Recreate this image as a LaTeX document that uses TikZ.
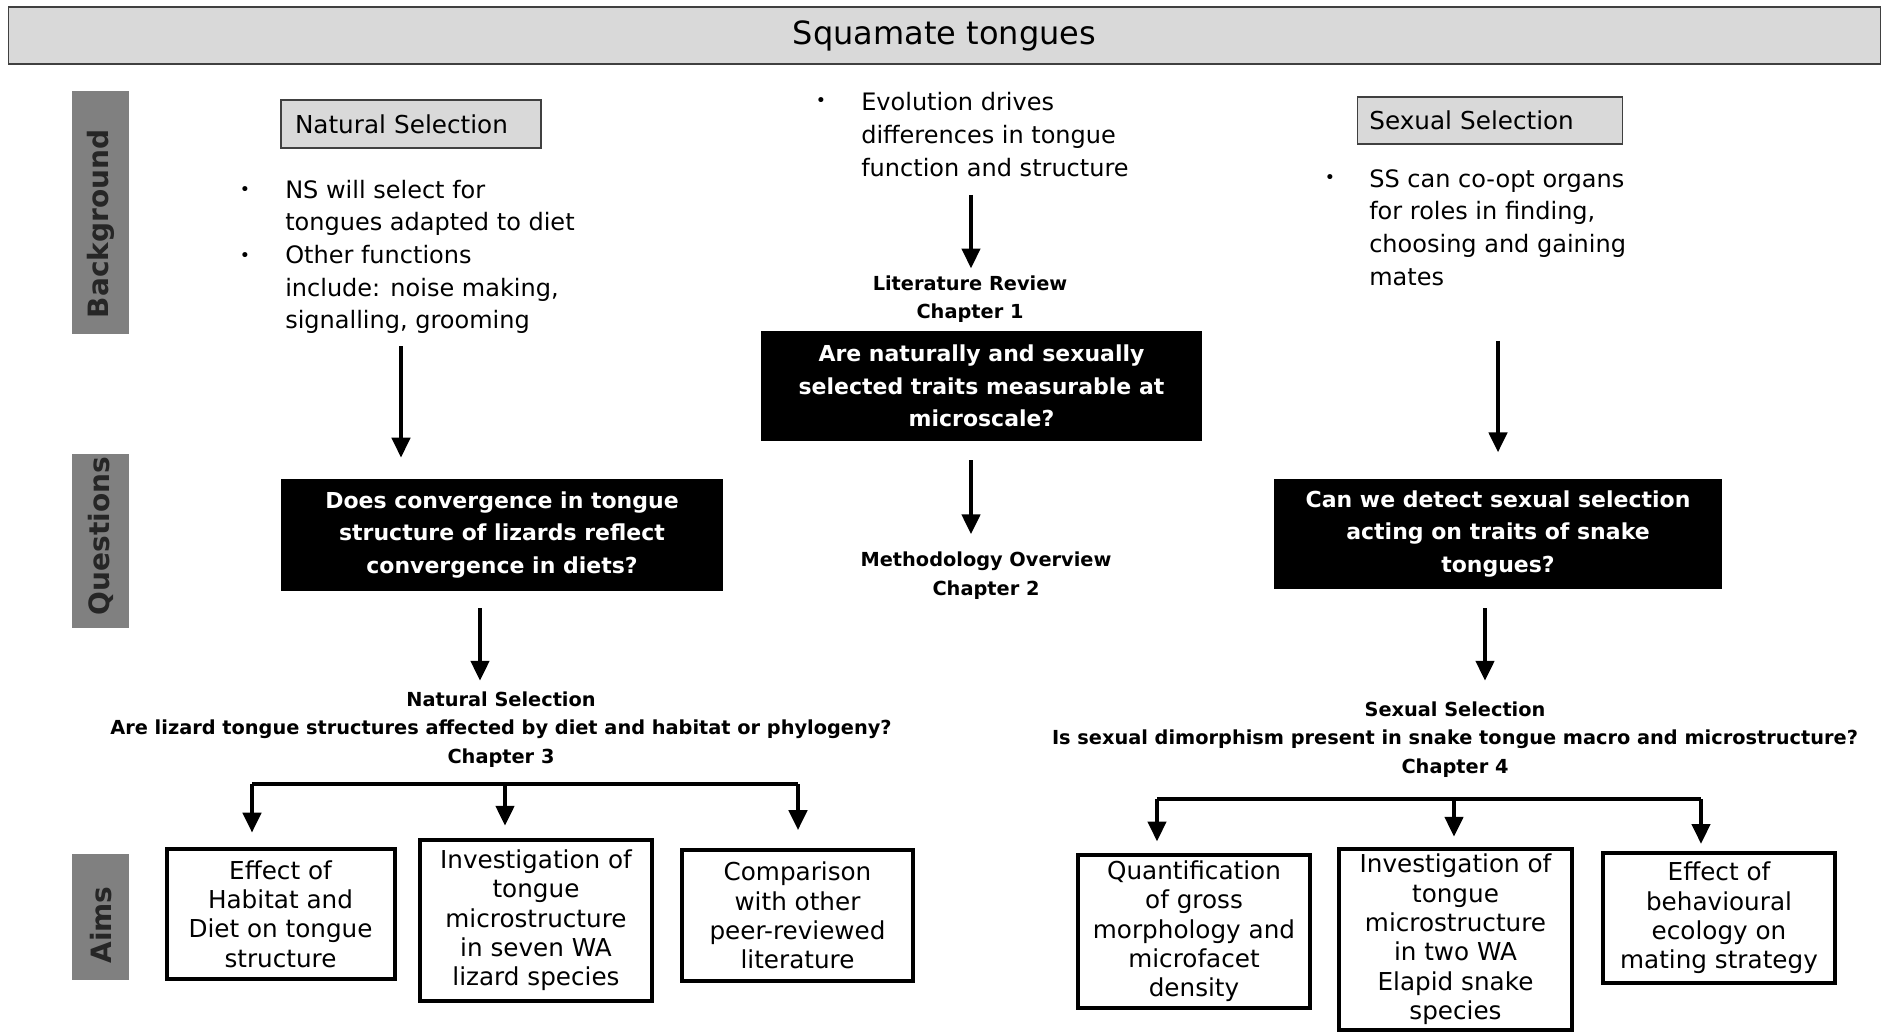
\documentclass[tikz,border=0pt]{standalone}
\usepackage{fontspec}
\setmainfont{DejaVu Sans}
\usetikzlibrary{arrows.meta}
\definecolor{barfill}{HTML}{D9D9D9}
\definecolor{barline}{HTML}{404040}
\definecolor{sidegray}{HTML}{808080}
\definecolor{sidetext}{HTML}{262626}

\begin{document}
\begin{tikzpicture}[x=0.75pt,y=-0.75pt,
	arr/.style={line width=3.3pt, -{Triangle[length=15pt,width=13.5pt]}},
	sidelabel/.style={text=sidetext, rotate=90, inner sep=0pt, font=\bfseries\fontsize{21}{25}\selectfont},
	headbox/.style={draw=barline, fill=barfill, line width=1.2pt, align=left, inner ysep=0pt, font=\fontsize{18.5}{22}\selectfont},
	bullettext/.style={anchor=west, align=left, inner sep=0pt, font=\fontsize{18}{24.5}\selectfont},
	bulletdot/.style={inner sep=0pt, font=\fontsize{13}{13}\selectfont},
	chapter/.style={align=center, inner sep=0pt, font=\bfseries\fontsize{14.5}{21.3}\selectfont},
	question/.style={fill=black, text=white, align=center, inner sep=0pt, font=\bfseries\fontsize{16.5}{24.5}\selectfont},
	aimbox/.style={draw=black, line width=3pt, fill=white, align=center, inner sep=0pt, font=\fontsize{18.5}{22}\selectfont}]
	% Fixed white canvas, same proportions as the slide.
	\path[use as bounding box] (0,0) rectangle (1885,1034);
	\fill[white] (0,0) rectangle (1885,1034);

	% Title bar.
	\node[draw=barline, fill=barfill, line width=1.2pt, minimum width=1404pt, minimum height=42.5pt,
		font=\fontsize{24}{28}\selectfont] (title) at (944.5,35.5) {Squamate tongues};

	% Row labels on the left.
	\fill[sidegray] (72,91) rectangle (129,334);
	\node[sidelabel] (bglabel) at (101,224) {Background};
	\fill[sidegray] (72,454) rectangle (129,628);
	\node[sidelabel] (qlabel) at (101,536) {Questions};
	\fill[sidegray] (72,854) rectangle (129,980);
	\node[sidelabel] (aimlabel) at (101,925) {Aims};

	% Background row.
	\node[headbox, text width=174pt, inner xsep=10.5pt, minimum height=36pt] (nsbox) at (411,124) {Natural Selection};
	\node[headbox, text width=181pt, inner xsep=9pt, minimum height=35pt] (ssbox) at (1490,120.5) {Sexual Selection};

	\node[bullettext] (nsbul) at (285,257) {NS will select for\\tongues adapted to diet\\Other functions\\include: noise making,\\signalling, grooming};
	\node[bulletdot] (nsdot1) at (245,191) {•};
	\node[bulletdot] (nsdot2) at (245,257) {•};

	\node[bullettext] (evo) at (861,134.5) {Evolution drives\\differences in tongue\\function and structure};
	\node[bulletdot] (evodot) at (821,102) {•};

	\node[bullettext] (ssbul) at (1369,227.5) {SS can co-opt organs\\for roles in finding,\\choosing and gaining\\mates};
	\node[bulletdot] (ssdot) at (1330,179) {•};

	% Centre column.
	\node[chapter] (litrev) at (970,299) {Literature Review\\Chapter 1};
	\node[question, minimum width=330.5pt, minimum height=82.5pt] (litq) at (981.5,386)
		{Are naturally and sexually\\selected traits measurable at\\microscale?};
	\node[chapter] (methov) at (986,575.5) {Methodology Overview\\Chapter 2};

	% Question row.
	\node[question, minimum width=331.5pt, minimum height=84.5pt] (nsq) at (502,535)
		{Does convergence in tongue\\structure of lizards reflect\\convergence in diets?};
	\node[question, minimum width=336pt, minimum height=83pt] (ssq) at (1498,534)
		{Can we detect sexual selection\\acting on traits of snake\\tongues?};

	\node[chapter] (nshead) at (501,729.5)
		{Natural Selection\\Are lizard tongue structures affected by diet and habitat or phylogeny?\\Chapter 3};
	\node[chapter] (sshead) at (1455,739.5)
		{Sexual Selection\\Is sexual dimorphism present in snake tongue macro and microstructure?\\Chapter 4};

	% Aims row.
	\node[aimbox, minimum width=171pt, minimum height=98pt] (aim1) at (280.5,914) {Effect of\\Habitat and\\Diet on tongue\\structure};
	\node[aimbox, minimum width=174pt, minimum height=121pt] (aim2) at (536,920.5) {Investigation of\\tongue\\microstructure\\in seven WA\\lizard species};
	\node[aimbox, minimum width=173pt, minimum height=98pt] (aim3) at (797.5,915.5) {Comparison\\with other\\peer-reviewed\\literature};
	\node[aimbox, minimum width=174pt, minimum height=115pt] (aim4) at (1194,931.5) {Quantification\\of gross\\morphology and\\microfacet\\density};
	\node[aimbox, minimum width=175pt, minimum height=136pt] (aim5) at (1455.5,939.5) {Investigation of\\tongue\\microstructure\\in two WA\\Elapid snake\\species};
	\node[aimbox, minimum width=174pt, minimum height=98pt] (aim6) at (1719,918) {Effect of\\behavioural\\ecology on\\mating strategy};

	% Downward arrows.
	\coordinate (evotail) at (971,195);
	\coordinate (lqtail) at (971,460);
	\coordinate (nstail) at (401,346);
	\coordinate (sstail) at (1498,341);
	\coordinate (nsqtail) at (480,608);
	\coordinate (ssqtail) at (1485,608);
	\draw[arr, shorten >=5pt] (evotail) -- (evotail |- litrev.north);
	\draw[arr, shorten >=13pt] (lqtail) -- (lqtail |- methov.north);
	\draw[arr, shorten >=15.5pt] (nstail) -- (nstail |- nsq.north);
	\draw[arr, shorten >=19.5pt] (sstail) -- (sstail |- ssq.north);
	\draw[arr, shorten >=8pt] (nsqtail) -- (nsqtail |- nshead.north);
	\draw[arr, shorten >=15.5pt] (ssqtail) -- (ssqtail |- sshead.north);

	% Forks down to the aims.
	\coordinate (nsfl) at (252,784);
	\coordinate (nsfm) at (505,784);
	\coordinate (nsfr) at (798,784);
	\coordinate (ssfl) at (1157,799);
	\coordinate (ssfm) at (1454,799);
	\coordinate (ssfr) at (1701,799);
	\draw[line width=3.3pt] (nsfl) -- (nsfr);
	\draw[line width=3.3pt] (ssfl) -- (ssfr);
	\draw[arr, shorten >=10.5pt] (nsfl) -- (nsfl |- aim1.north);
	\draw[arr, shorten >=9pt] (nsfm) -- (nsfm |- aim2.north);
	\draw[arr, shorten >=13.5pt] (nsfr) -- (nsfr |- aim3.north);
	\draw[arr, shorten >=8.5pt] (ssfl) -- (ssfl |- aim4.north);
	\draw[arr, shorten >=7.5pt] (ssfm) -- (ssfm |- aim5.north);
	\draw[arr, shorten >=5pt] (ssfr) -- (ssfr |- aim6.north);
\end{tikzpicture}
\end{document}
